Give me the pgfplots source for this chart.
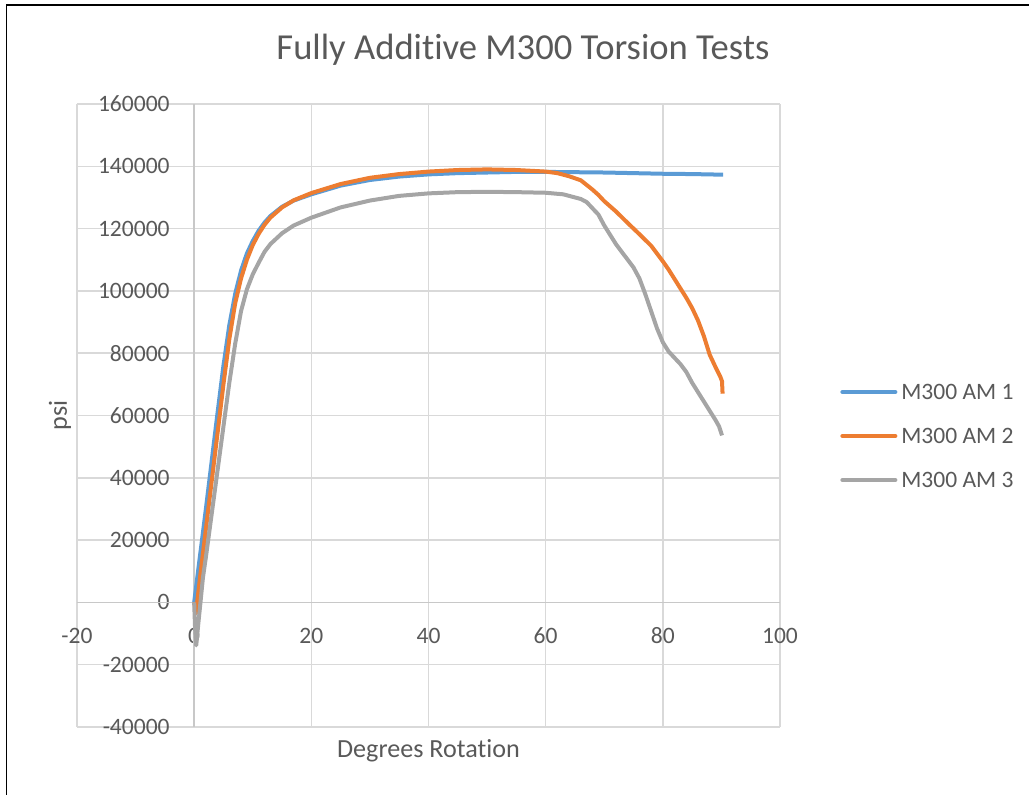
\documentclass[border=0pt]{standalone}
\usepackage{pgfplots}
\pgfplotsset{compat=1.18}
\usepackage{fontspec}
\setmainfont{Carlito}[Ligatures=NoCommon]
\definecolor{txt}{HTML}{595959}
\definecolor{gridc}{HTML}{D9D9D9}
\definecolor{axisc}{HTML}{C8C8C8}
\definecolor{amblue}{HTML}{5B9BD5}
\definecolor{amorange}{HTML}{ED7D31}
\definecolor{amgray}{HTML}{A5A5A5}

% torsion test curves: degrees of rotation vs shear stress (psi)
\pgfplotstableread{
x y
0 0
1 15000
2 30000
3 45500
4 61000
5 76000
6 89000
7 99000
8 106500
9 112000
10 116000
11 119300
12 121900
13 124000
15 127000
17 129000
20 131000
25 133800
30 135600
35 136700
40 137400
45 137800
50 138000
55 138200
60 138200
65 138100
70 138000
75 137800
80 137600
85 137500
90.3 137300
}\amone

\pgfplotstableread{
x y
0 0
0.3 -3500
1 8000
2 23500
3 39000
4 54500
5 70000
6 84500
7 96000
8 104000
9 110000
10 114700
11 118300
12 121200
13 123500
15 126800
17 129100
20 131400
25 134300
30 136300
35 137500
40 138300
45 138800
50 139000
55 138800
58 138500
60 138300
62 137800
64 136800
66 135500
67 134000
68 132500
69 130800
70 128800
72 125500
74 121800
76 118200
78 114500
79 112000
80 109500
81 106800
82 103800
83 100800
84 97800
85 94500
86 90500
87 85500
88 79500
89 75500
89.8 72500
90.1 71000
90.2 67000
}\amtwo

\pgfplotstableread{
x y
0 0
0.15 -8000
0.35 -13800
0.7 -7000
1.5 8000
2 14500
3 28500
4 42500
5 56500
6 70500
7 83000
8 93500
9 100500
10 105300
11 109000
12 112500
13 115000
15 118500
17 121000
20 123500
25 126800
30 129000
35 130500
40 131300
45 131700
50 131800
55 131700
60 131500
63 131000
65 130000
66 129500
67 128500
68 126500
69 124500
70 121000
71 118000
72 115000
73 112500
74 110000
75 107500
76 104000
77 99000
78 93500
79 88000
80 83500
81 80500
82 78500
83 76500
84 74000
85 70500
86 67500
87 64500
88 61500
89 58500
89.6 56500
90.1 53600
}\amthree

\begin{document}
\begin{tikzpicture}[x=1pt,y=1pt]
\useasboundingbox (0,0) rectangle (514.5,397.5);
% chart frame (left and top edges)
\draw[line width=0.75pt,black] (3.35,0) -- (3.35,394.9) -- (514.5,394.9);
% title
\node[anchor=base,text=txt,font=\fontsize{18.3}{22}\selectfont,inner sep=0pt]
  at (261.5,367.5) {Fully Additive M300 Torsion Tests};
\begin{axis}[
  at={(38.5pt,34pt)}, anchor=south west,
  scale only axis, width=351.5pt, height=311.5pt,
  xmin=-20, xmax=100, ymin=-40000, ymax=160000,
  xtick={-20,0,20,40,60,80,100},
  xticklabels={-20,0,20,40,60,80,100},
  ytick={-40000,-20000,0,20000,40000,60000,80000,100000,120000,140000,160000},
  yticklabels={-40000,-20000,0,20000,40000,60000,80000,100000,120000,140000,160000},
  scaled ticks=false,
  axis line style={draw=none},
  major tick style={draw=none},
  grid=major,
  major grid style={gridc, line width=0.75pt},
  tick label style={text=txt, font=\fontsize{11.76}{14}\selectfont, inner sep=0pt},
  xticklabel style={anchor=center, yshift=45.5pt},
  yticklabel style={anchor=east, xshift=46.5pt},
  xlabel={Degrees Rotation}, ylabel={psi},
  every axis x label/.style={at={(axis description cs:0.5,-0.0385)}, anchor=center,
    text=txt, font=\fontsize{13.07}{16}\selectfont},
  every axis y label/.style={at={(axis description cs:-0.0242,0.5)}, rotate=90, anchor=center,
    text=txt, font=\fontsize{13.07}{16}\selectfont},
  legend image code/.code={\draw[#1,line cap=round] (0pt,0pt) -- (26.5pt,0pt);},
  legend style={draw=none, fill=none, at={(1.0853,0.467)}, anchor=west,
    inner sep=0pt, row sep=9pt,
    font=\fontsize{11.76}{14}\selectfont, text=txt,
    nodes={inner sep=2pt, text height=8pt, text depth=1pt}},
  legend cell align=left,
  clip=false,
]
\draw[axisc, line width=0.75pt] (axis cs:-20,0) -- (axis cs:100,0);
\draw[axisc, line width=0.75pt] (axis cs:0,-40000) -- (axis cs:0,160000);
\addplot[amblue, line width=2pt, line join=round] table {\amone};
\addplot[amorange, line width=2pt, line join=round] table {\amtwo};
\addplot[amgray, line width=2pt, line join=round] table {\amthree};
\legend{M300 AM 1, M300 AM 2, M300 AM 3}
\end{axis}
\end{tikzpicture}
\end{document}
